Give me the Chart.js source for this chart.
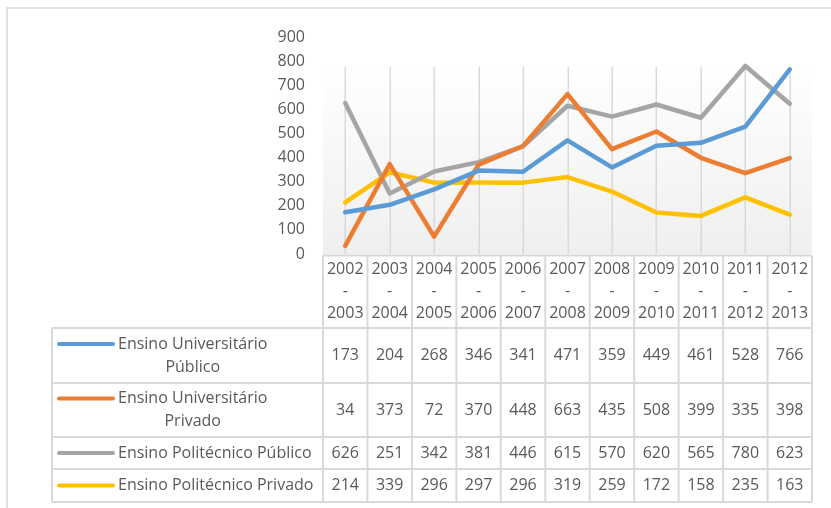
<!DOCTYPE html>
<html><head><meta charset="utf-8">
<script src="https://cdn.jsdelivr.net/npm/chart.js@4"></script>
<style>html,body{margin:0;padding:0;background:#fff;overflow:hidden}</style>
</head><body>
<canvas id="c" width="831" height="508"></canvas>
<script>
// ---- data ----
const categories = [
  ['2002','-','2003'],['2003','-','2004'],['2004','-','2005'],['2005','-','2006'],
  ['2006','-','2007'],['2007','-','2008'],['2008','-','2009'],['2009','-','2010'],
  ['2010','-','2011'],['2011','-','2012'],['2012','-','2013']
];
const yTickMin = 0;
const yTickMax = 900;
const yTickStep = 100;
const seriesNames = ['Ensino Universitário Público','Ensino Universitário Privado','Ensino Politécnico Público','Ensino Politécnico Privado'];
const seriesNameLines = [['Ensino Universitário','Público'],['Ensino Universitário','Privado'],['Ensino Politécnico Público'],['Ensino Politécnico Privado']];
const uniPublico  = [173,204,268,346,341,471,359,449,461,528,766];
const uniPrivado  = [34,373,72,370,448,663,435,508,399,335,398];
const poliPublico = [626,251,342,381,446,615,570,620,565,780,623];
const poliPrivado = [214,339,296,297,296,319,259,172,158,235,163];
const seriesValues = [uniPublico, uniPrivado, poliPublico, poliPrivado];
const seriesColors = ['#5B9BD5','#ED7D31','#A5A5A5','#FFC000'];

// ---- layout ----
const FONT = '"Open Sans", sans-serif';
const TXT = '#595959';
const BORDER = '#d9d9d9';
const L = {
  plotBgTop: 67, headerTop: 255.5, rows: [328, 383, 437, 469, 502],
  tableLeft: 52, keyX0: 59, keyX1: 113, textLeft: 118
};

const tablePlugin = {
  id: 'tablePlugin',
  beforeDraw(chart) {
    const {ctx, chartArea: a, scales: {x}} = chart;
    ctx.save();
    ctx.fillStyle = '#fff';
    ctx.fillRect(0, 0, chart.width, chart.height);
    // outer border
    ctx.strokeStyle = BORDER; ctx.lineWidth = 1.5;
    ctx.beginPath(); ctx.moveTo(7, 508); ctx.lineTo(7, 8); ctx.lineTo(831, 8); ctx.stroke();
    // plot background gradient
    const g = ctx.createLinearGradient(0, L.plotBgTop, 0, a.bottom);
    g.addColorStop(0, '#ffffff'); g.addColorStop(1, '#efefef');
    ctx.fillStyle = g;
    ctx.fillRect(a.left, L.plotBgTop, a.right - a.left, a.bottom - L.plotBgTop);
    // vertical grid lines at category centres
    ctx.strokeStyle = BORDER; ctx.lineWidth = 1.5;
    categories.forEach((c, i) => {
      const px = Math.round(x.getPixelForValue(i)) + 0.25;
      ctx.beginPath(); ctx.moveTo(px, L.plotBgTop); ctx.lineTo(px, a.bottom); ctx.stroke();
    });
    ctx.restore();
  },
  afterDraw(chart) {
    const {ctx, chartArea: a, scales: {x}} = chart;
    const n = categories.length;
    const cw = (a.right - a.left) / n;
    ctx.save();
    ctx.strokeStyle = BORDER; ctx.lineWidth = 2;
    // header row borders
    ctx.beginPath();
    ctx.moveTo(a.left, L.headerTop); ctx.lineTo(a.right, L.headerTop);
    for (let r = 0; r < L.rows.length; r++) {
      ctx.moveTo(L.tableLeft, L.rows[r]); ctx.lineTo(a.right, L.rows[r]);
    }
    for (let i = 0; i <= n; i++) {
      const bx = x.getPixelForValue(i) - cw / 2;
      ctx.moveTo(bx, L.headerTop); ctx.lineTo(bx, L.rows[L.rows.length - 1]);
    }
    ctx.moveTo(L.tableLeft, L.rows[0]); ctx.lineTo(L.tableLeft, L.rows[L.rows.length - 1]);
    ctx.stroke();

    ctx.fillStyle = TXT;
    ctx.font = '16px ' + FONT;
    ctx.textBaseline = 'middle';
    seriesValues.forEach((vals, s) => {
      const yc = (L.rows[s] + L.rows[s + 1]) / 2;
      // numbers
      ctx.textAlign = 'center';
      vals.forEach((v, i) => ctx.fillText(String(v), x.getPixelForValue(i), yc));
      // legend text
      const lines = seriesNameLines[s];
      const lh = 23;
      const y0 = yc - (lines.length - 1) * lh / 2;
      const maxW = Math.max(...lines.map(t => ctx.measureText(t).width));
      lines.forEach((t, k) => ctx.fillText(t, L.textLeft + maxW / 2, y0 + k * lh));
      // key
      ctx.save();
      ctx.strokeStyle = seriesColors[s]; ctx.lineWidth = 4; ctx.lineCap = 'round';
      ctx.beginPath(); ctx.moveTo(L.keyX0, y0); ctx.lineTo(L.keyX1, y0); ctx.stroke();
      ctx.restore();
    });
    ctx.restore();
  }
};

new Chart(document.getElementById('c'), {
  type: 'line',
  data: {
    labels: categories,
    datasets: seriesValues.map((v, s) => ({
      label: seriesNames[s], data: v,
      borderColor: seriesColors[s], backgroundColor: seriesColors[s],
      borderWidth: 4.5, pointRadius: 0, pointHoverRadius: 0, tension: 0,
      borderJoinStyle: 'round', borderCapStyle: 'round', fill: false
    }))
  },
  options: {
    responsive: false, animation: false, events: [],
    layout: {padding: {left: 0, right: 19, top: 37, bottom: 180}},
    plugins: {legend: {display: false}, tooltip: {enabled: false}},
    scales: {
      x: {
        offset: true,
        grid: {display: false, drawTicks: false},
        border: {display: false},
        ticks: {color: TXT, font: {family: FONT, size: 16, lineHeight: 1.35}, padding: 5, maxRotation: 0, autoSkip: false},
        afterFit(s) { s.height = 74; }
      },
      y: {
        min: yTickMin, max: yTickMax,
        grid: {display: false, drawTicks: false},
        border: {display: false},
        ticks: {stepSize: yTickStep, color: TXT, font: {family: FONT, size: 16}, padding: 18},
        afterFit(s) { s.width = 323; }
      }
    }
  },
  plugins: [tablePlugin]
});
</script>
</body></html>
